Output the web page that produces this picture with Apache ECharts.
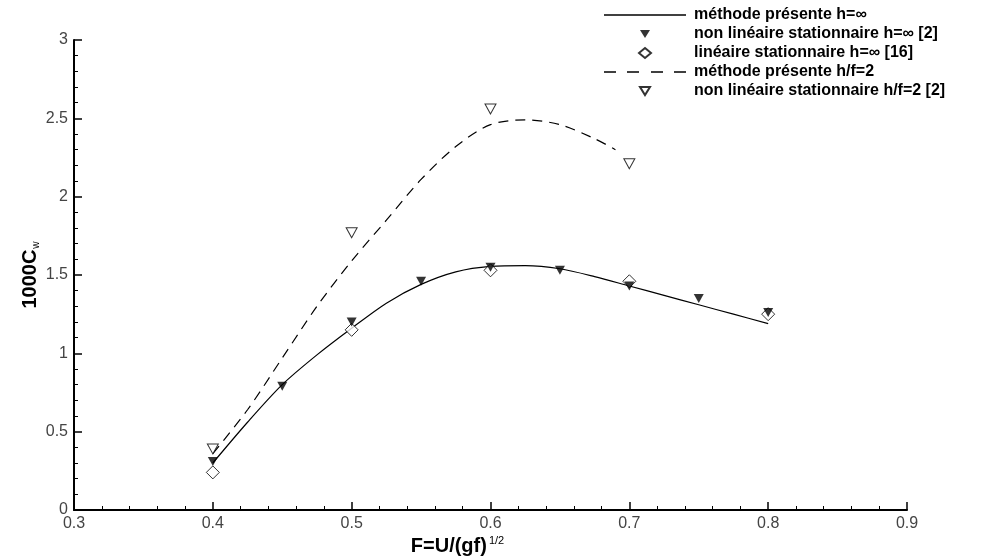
<!DOCTYPE html>
<html>
<head>
<meta charset="utf-8">
<script src="https://cdn.jsdelivr.net/npm/echarts@6/dist/echarts.min.js"></script>
<style>
  html, body { margin: 0; padding: 0; background: #fff; }
  #main { width: 981px; height: 560px; }
</style>
</head>
<body>
<div id="main"></div>
<script>
var myChart = echarts.init(document.getElementById('main'));

// méthode présente h=inf (courbe continue)
var methodeInfF = [0.4, 0.425, 0.45, 0.475, 0.5, 0.525, 0.55, 0.575, 0.6, 0.625, 0.65, 0.675, 0.7, 0.725, 0.75, 0.775, 0.8];
var methodeInfC = [0.30, 0.56, 0.80, 0.99, 1.16, 1.32, 1.44, 1.52, 1.555, 1.56, 1.54, 1.49, 1.43, 1.37, 1.31, 1.25, 1.19];

// méthode présente h/f=2 (tirets)
var methode2F = [0.4, 0.425, 0.45, 0.475, 0.5, 0.525, 0.55, 0.575, 0.6, 0.625, 0.65, 0.675, 0.69];
var methode2C = [0.36, 0.64, 0.97, 1.30, 1.59, 1.85, 2.11, 2.32, 2.46, 2.49, 2.46, 2.37, 2.30];

// non linéaire stationnaire h=inf [2]
var nlInfF = [0.4, 0.45, 0.5, 0.55, 0.6, 0.65, 0.7, 0.75, 0.8];
var nlInfC = [0.31, 0.79, 1.20, 1.46, 1.55, 1.53, 1.43, 1.35, 1.26];

// linéaire stationnaire h=inf [16]
var linInfF = [0.4, 0.5, 0.6, 0.7, 0.8];
var linInfC = [0.24, 1.15, 1.53, 1.46, 1.25];

// non linéaire stationnaire h/f=2 [2]
var nl2F = [0.4, 0.5, 0.6, 0.7];
var nl2C = [0.39, 1.77, 2.56, 2.21];

var names = [
  'méthode présente h=∞',
  'non linéaire stationnaire h=∞ [2]',
  'linéaire stationnaire h=∞ [16]',
  'méthode présente h/f=2',
  'non linéaire stationnaire h/f=2 [2]'
];

function pairs(xs, ys) {
  var out = [];
  for (var i = 0; i < xs.length; i++) {
    out.push([xs[i], ys[i]]);
  }
  return out;
}

// legend icons: the leading M points fix the box to 82x10 so the marks keep their size
var box = 'path://M0,0M82,10';
var iconSolid = box + 'M0,4.2L82,4.2L82,5.8L0,5.8Z';
var iconDash = box + 'M0,4.2L12,4.2L12,5.8L0,5.8Z' +
  'M23,4.2L35,4.2L35,5.8L23,5.8Z' +
  'M47,4.2L59,4.2L59,5.8L47,5.8Z' +
  'M70,4.2L82,4.2L82,5.8L70,5.8Z';
var iconTri = box + 'M36,1L46,1L41,9Z';
var iconDiamond = box + 'M41,0L47,5L41,10L35,5Z';

var axisFont = 'Liberation Sans Narrow, Liberation Sans, Arial';

var option = {
  animation: false,
  backgroundColor: '#fff',
  grid: { left: 74, right: 74, top: 40, bottom: 50, outerBoundsMode: 'none' },
  legend: {
    orient: 'vertical',
    left: 598,
    top: 2,
    itemWidth: 82,
    itemHeight: 10,
    itemGap: 3,
    align: 'left',
    textStyle: { fontFamily: 'Liberation Sans, Arial', fontWeight: 'bold', fontSize: 16, color: '#000', padding: [0, 0, 0, 3] },
    data: [
      { name: names[0], icon: iconSolid },
      { name: names[1], icon: iconTri },
      { name: names[2], icon: iconDiamond },
      { name: names[3], icon: iconDash },
      { name: names[4], icon: iconTri }
    ]
  },
  xAxis: {
    type: 'value',
    min: 0.3,
    max: 0.9,
    interval: 0.1,
    name: '{a|F=U/(gf)}{b|1/2}',
    nameLocation: 'middle',
    nameGap: 25,
    nameMoveOverlap: false,
    nameTextStyle: {
      padding: [0, 66, 0, 0],
      rich: {
        a: { fontFamily: 'Liberation Sans, Arial', fontWeight: 'bold', fontSize: 20, color: '#000', lineHeight: 22 },
        b: { fontFamily: 'Liberation Sans, Arial', fontSize: 11, color: '#000', verticalAlign: 'top', lineHeight: 22, padding: [0, 0, 12, 2] }
      }
    },
    axisLine: { onZero: false, lineStyle: { color: '#000', width: 2 } },
    axisTick: { inside: true, length: 8, lineStyle: { color: '#000', width: 1.5 } },
    minorTick: { show: true, splitNumber: 5, length: 4, lineStyle: { color: '#000', width: 1 } },
    axisLabel: { fontFamily: axisFont, fontSize: 16, color: '#444', margin: 6 },
    splitLine: { show: false }
  },
  yAxis: {
    type: 'value',
    min: 0,
    max: 3,
    interval: 0.5,
    name: '{a|1000C}{b|w}',
    nameLocation: 'middle',
    nameGap: 33,
    nameMoveOverlap: false,
    nameRotate: 90,
    nameTextStyle: {
      rich: {
        a: { fontFamily: 'Liberation Sans, Arial', fontWeight: 'bold', fontSize: 20, color: '#000', lineHeight: 22 },
        b: { fontFamily: 'Liberation Sans, Arial', fontSize: 10, color: '#000', verticalAlign: 'bottom', lineHeight: 22, padding: [9, 0, 0, 1] }
      }
    },
    axisLine: { onZero: false, lineStyle: { color: '#000', width: 2 } },
    axisTick: { inside: true, length: 8, lineStyle: { color: '#000', width: 1.5 } },
    minorTick: { show: true, splitNumber: 5, length: 4, lineStyle: { color: '#000', width: 1 } },
    axisLabel: { fontFamily: axisFont, fontSize: 16, color: '#444', margin: 6 },
    splitLine: { show: false }
  },
  series: [
    {
      name: names[0],
      type: 'line',
      data: pairs(methodeInfF, methodeInfC),
      smooth: 0.3,
      symbol: 'none',
      lineStyle: { color: '#000', width: 1.2, type: 'solid' },
      itemStyle: { color: '#000' },
      z: 2
    },
    {
      name: names[1],
      type: 'scatter',
      data: pairs(nlInfF, nlInfC),
      symbol: 'triangle',
      symbolRotate: 180,
      symbolSize: [10, 9],
      itemStyle: { color: '#000' },
      z: 4
    },
    {
      name: names[2],
      type: 'scatter',
      data: pairs(linInfF, linInfC),
      symbol: 'diamond',
      symbolSize: 13,
      itemStyle: { color: '#fff', borderColor: '#000', borderWidth: 1 },
      z: 3
    },
    {
      name: names[3],
      type: 'line',
      data: pairs(methode2F, methode2C),
      smooth: 0.3,
      symbol: 'none',
      lineStyle: { color: '#000', width: 1.2, type: [10, 7] },
      itemStyle: { color: '#000' },
      z: 2
    },
    {
      name: names[4],
      type: 'scatter',
      data: pairs(nl2F, nl2C),
      symbol: 'triangle',
      symbolRotate: 180,
      symbolSize: [11, 10],
      itemStyle: { color: '#fff', borderColor: '#000', borderWidth: 1 },
      z: 3
    }
  ]
};
myChart.setOption(option);
</script>
</body>
</html>
